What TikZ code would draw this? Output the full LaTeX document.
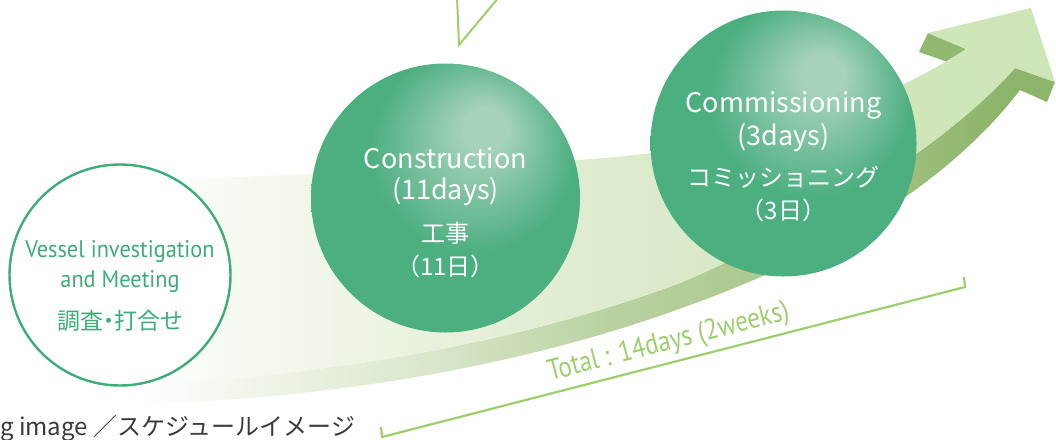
\documentclass[tikz,border=0pt]{standalone}
\usepackage{fontspec}
\setmainfont{Noto Sans CJK JP}
\newfontfamily\condfont[FakeStretch=0.86]{PT Sans}
\newfontfamily\ringfont[FakeStretch=0.93]{PT Sans}
\newfontfamily\ringjpfont[RawFeature=+palt]{Noto Sans CJK JP}
\usetikzlibrary{positioning}

\definecolor{ballGreen}{HTML}{4CAF80}
\definecolor{ballLight}{HTML}{A6D2BA}
\definecolor{ringGreen}{HTML}{3DAD77}
\definecolor{lineGreen}{HTML}{9CCF6C}
\definecolor{capGray}{HTML}{3A3A3A}
\definecolor{barbDark}{HTML}{90B870}
\definecolor{topA}{HTML}{F3F8EC}
\definecolor{topB}{HTML}{E8F1DD}
\definecolor{topC}{HTML}{DEEBCF}
\definecolor{topD}{HTML}{D0E6B9}
\definecolor{topE}{HTML}{C8E2AE}
\definecolor{sideA}{HTML}{EEF4E6}
\definecolor{sideB}{HTML}{D8E6C9}
\definecolor{sideC}{HTML}{BAD2A1}
\definecolor{sideD}{HTML}{9DBF7C}
\definecolor{sideE}{HTML}{8CB46A}

\pgfdeclareradialshading{sphere}{\pgfpoint{8bp}{14bp}}{color(0bp)=(ballLight); color(4bp)=(ballLight); color(19bp)=(ballGreen); color(50bp)=(ballGreen)}
\pgfdeclarehorizontalshading{topFace}{100bp}{color(0bp)=(white); color(26bp)=(white); color(33bp)=(topA); color(42bp)=(topB); color(51bp)=(topC); color(67bp)=(topD); color(100bp)=(topE)}
\pgfdeclarehorizontalshading{sideFace}{100bp}{color(0bp)=(white); color(26bp)=(white); color(33bp)=(sideA); color(42bp)=(sideB); color(51bp)=(sideC); color(67bp)=(sideD); color(72bp)=(sideE); color(100bp)=(sideE)}

\begin{document}
\begin{tikzpicture}[
        x=1pt, y=-1pt,
        ringNode/.style={circle, draw=ringGreen, line width=2.4pt, fill=white, minimum size=221pt, inner sep=0pt},
        ballNode/.style={circle, shading=sphere, minimum size=#1, inner sep=0pt},
        ringText/.style={text=ringGreen, inner sep=0pt, font=\ringfont\fontsize{24}{28}\selectfont},
        ringTextJp/.style={text=ringGreen, inner sep=0pt, font=\ringjpfont\fontsize{23}{27}\selectfont},
        ballText/.style={text=white, inner sep=0pt, font=\fontsize{27}{31}\selectfont},
        ballTextJp/.style={text=white, inner sep=0pt, font=\fontsize{24}{28}\selectfont},
        bracketLine/.style={draw=lineGreen, line width=2.2pt},
        totalText/.style={text=lineGreen, inner sep=0pt, font=\condfont\fontsize{29}{33}\selectfont},
        captionText/.style={text=capGray, inner sep=0pt, font=\fontsize{24}{28}\selectfont}
    ]
        \useasboundingbox (0,0) rectangle (1056,439);

        % Arrow ribbon, side face first
        \path[shading=sideFace] (1015,68) -- (1055,82) -- (1047,102) -- (1020,90)
            .. controls (968,158) and (870,240) .. (690,305)
            .. controls (510,372) and (300,402) .. (120,404) -- (120,386)
            .. controls (300,378) and (500,350) .. (680,283)
            .. controls (850,210) and (960,130) .. (1015,68) -- cycle;
        \fill[barbDark] (928,33) -- (919,52) -- (948,62) -- (966,49) -- cycle;

        % Arrow ribbon, top face
        \path[shading=topFace] (120,181)
            .. controls (400,172) and (560,164) .. (652,153)
            .. controls (780,137) and (880,105) .. (966,49)
            -- (928,33) -- (1031,8) -- (1055,82) -- (1015,68)
            .. controls (960,130) and (850,210) .. (680,283)
            .. controls (500,350) and (300,378) .. (120,386) -- cycle;

        % Circles
        \node[ringNode] (survey) at (120,275) {};
        \node[ballNode=269pt] (construction) at (445.5,198) {};
        \node[ballNode=266pt] (commissioning) at (783.5,143.5) {};

        % Circle texts
        \node[ringText] at ([yshift=23pt]survey.center) {Vessel investigation};
        \node[ringText] at ([yshift=-7pt]survey.center) {and Meeting};
        \node[ringTextJp] at ([yshift=-46pt]survey.center) {調査・打合せ};

        \node[ballText] at ([yshift=40pt]construction.center) {Construction};
        \node[ballText] at ([yshift=6pt]construction.center) {(11days)};
        \node[ballTextJp] at ([yshift=-35pt]construction.center) {工事};
        \node[ballTextJp] at ([yshift=-68pt]construction.center) {（11日）};

        \node[ballText] at ([yshift=38pt]commissioning.center) {Commissioning};
        \node[ballText] at ([yshift=6pt]commissioning.center) {(3days)};
        \node[ballTextJp] at ([yshift=-34pt]commissioning.center) {コミッショニング};
        \node[ballTextJp] at ([yshift=-67pt]commissioning.center) {（3日）};

        % Total bracket
        \coordinate (totalStart) at (382,437);
        \coordinate (totalEnd) at (965,287);
        \draw[bracketLine] (totalStart) ++(-1,-10) -- (totalStart) -- (totalEnd) -- ++(-1,-10);
        \path (totalStart) -- (totalEnd) node[midway, sloped, above=6pt, totalText] (total) {Total : 14days (2weeks)};

        % Pointer from above
        \coordinate (pointerTip) at (459,45);
        \draw[bracketLine, line width=2pt] (457,-3) -- (pointerTip) -- (499,-3);

        % Caption
        \node[captionText, anchor=base west] (caption) at (0,435) {g image ／スケジュールイメージ};
    \end{tikzpicture}
\end{document}
